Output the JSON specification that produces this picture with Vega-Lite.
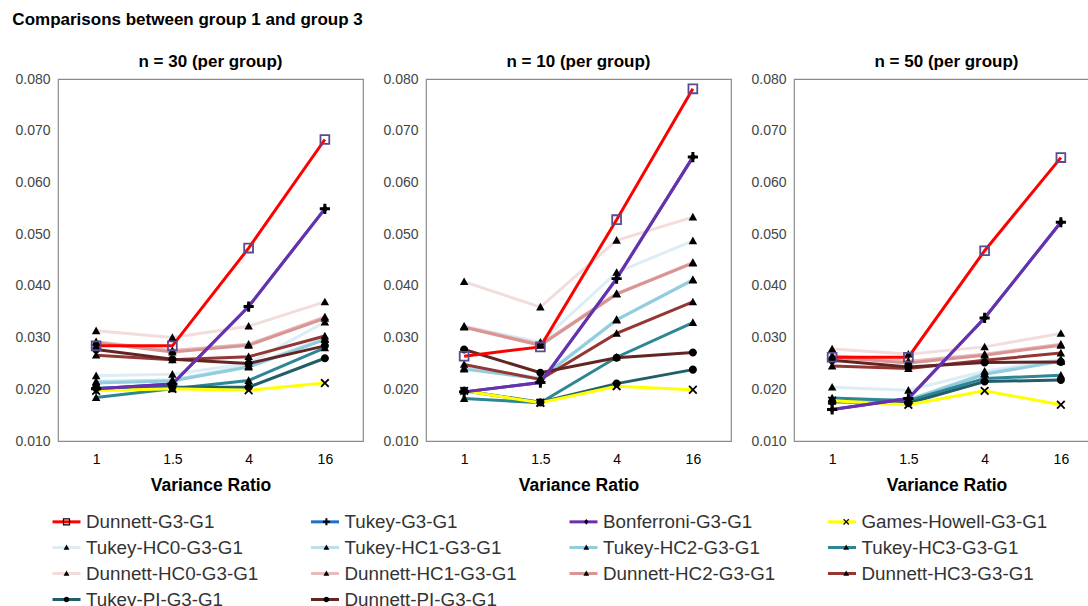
{
  "$schema": "https://vega.github.io/schema/vega-lite/v6.json",
  "padding": {"left": 12, "top": 11, "right": -12, "bottom": 0},
  "title": {"text": "Comparisons between group 1 and group 3", "anchor": "start", "fontSize": 17, "fontWeight": "bold", "font": "Liberation Sans", "color": "#000000", "offset": 24, "dx": -2},
  "data": {"values": [
    {"panel":"n = 30 (per group)","method":"Dunnett-HC0-G3-G1","ratio":1,"rate":0.0313},
    {"panel":"n = 30 (per group)","method":"Dunnett-HC0-G3-G1","ratio":1.5,"rate":0.0300},
    {"panel":"n = 30 (per group)","method":"Dunnett-HC0-G3-G1","ratio":4,"rate":0.0322},
    {"panel":"n = 30 (per group)","method":"Dunnett-HC0-G3-G1","ratio":16,"rate":0.0369},
    {"panel":"n = 30 (per group)","method":"Tukey-HC0-G3-G1","ratio":1,"rate":0.0226},
    {"panel":"n = 30 (per group)","method":"Tukey-HC0-G3-G1","ratio":1.5,"rate":0.0229},
    {"panel":"n = 30 (per group)","method":"Tukey-HC0-G3-G1","ratio":4,"rate":0.0250},
    {"panel":"n = 30 (per group)","method":"Tukey-HC0-G3-G1","ratio":16,"rate":0.0330},
    {"panel":"n = 30 (per group)","method":"Dunnett-HC1-G3-G1","ratio":1,"rate":0.0292},
    {"panel":"n = 30 (per group)","method":"Dunnett-HC1-G3-G1","ratio":1.5,"rate":0.0275},
    {"panel":"n = 30 (per group)","method":"Dunnett-HC1-G3-G1","ratio":4,"rate":0.0287},
    {"panel":"n = 30 (per group)","method":"Dunnett-HC1-G3-G1","ratio":16,"rate":0.0340},
    {"panel":"n = 30 (per group)","method":"Tukey-HC1-G3-G1","ratio":1,"rate":0.0215},
    {"panel":"n = 30 (per group)","method":"Tukey-HC1-G3-G1","ratio":1.5,"rate":0.0218},
    {"panel":"n = 30 (per group)","method":"Tukey-HC1-G3-G1","ratio":4,"rate":0.0245},
    {"panel":"n = 30 (per group)","method":"Tukey-HC1-G3-G1","ratio":16,"rate":0.0298},
    {"panel":"n = 30 (per group)","method":"Dunnett-HC2-G3-G1","ratio":1,"rate":0.0290},
    {"panel":"n = 30 (per group)","method":"Dunnett-HC2-G3-G1","ratio":1.5,"rate":0.0272},
    {"panel":"n = 30 (per group)","method":"Dunnett-HC2-G3-G1","ratio":4,"rate":0.0285},
    {"panel":"n = 30 (per group)","method":"Dunnett-HC2-G3-G1","ratio":16,"rate":0.0337},
    {"panel":"n = 30 (per group)","method":"Tukey-HC2-G3-G1","ratio":1,"rate":0.0212},
    {"panel":"n = 30 (per group)","method":"Tukey-HC2-G3-G1","ratio":1.5,"rate":0.0216},
    {"panel":"n = 30 (per group)","method":"Tukey-HC2-G3-G1","ratio":4,"rate":0.0243},
    {"panel":"n = 30 (per group)","method":"Tukey-HC2-G3-G1","ratio":16,"rate":0.0296},
    {"panel":"n = 30 (per group)","method":"Dunnett-HC3-G3-G1","ratio":1,"rate":0.0266},
    {"panel":"n = 30 (per group)","method":"Dunnett-HC3-G3-G1","ratio":1.5,"rate":0.0257},
    {"panel":"n = 30 (per group)","method":"Dunnett-HC3-G3-G1","ratio":4,"rate":0.0263},
    {"panel":"n = 30 (per group)","method":"Dunnett-HC3-G3-G1","ratio":16,"rate":0.0303},
    {"panel":"n = 30 (per group)","method":"Tukey-HC3-G3-G1","ratio":1,"rate":0.0184},
    {"panel":"n = 30 (per group)","method":"Tukey-HC3-G3-G1","ratio":1.5,"rate":0.0201},
    {"panel":"n = 30 (per group)","method":"Tukey-HC3-G3-G1","ratio":4,"rate":0.0217},
    {"panel":"n = 30 (per group)","method":"Tukey-HC3-G3-G1","ratio":16,"rate":0.0280},
    {"panel":"n = 30 (per group)","method":"Dunnett-PI-G3-G1","ratio":1,"rate":0.0277},
    {"panel":"n = 30 (per group)","method":"Dunnett-PI-G3-G1","ratio":1.5,"rate":0.0258},
    {"panel":"n = 30 (per group)","method":"Dunnett-PI-G3-G1","ratio":4,"rate":0.0250},
    {"panel":"n = 30 (per group)","method":"Dunnett-PI-G3-G1","ratio":16,"rate":0.0284},
    {"panel":"n = 30 (per group)","method":"Tukey-PI-G3-G1","ratio":1,"rate":0.0202},
    {"panel":"n = 30 (per group)","method":"Tukey-PI-G3-G1","ratio":1.5,"rate":0.0204},
    {"panel":"n = 30 (per group)","method":"Tukey-PI-G3-G1","ratio":4,"rate":0.0204},
    {"panel":"n = 30 (per group)","method":"Tukey-PI-G3-G1","ratio":16,"rate":0.0260},
    {"panel":"n = 30 (per group)","method":"Games-Howell-G3-G1","ratio":1,"rate":0.0197},
    {"panel":"n = 30 (per group)","method":"Games-Howell-G3-G1","ratio":1.5,"rate":0.0201},
    {"panel":"n = 30 (per group)","method":"Games-Howell-G3-G1","ratio":4,"rate":0.0198},
    {"panel":"n = 30 (per group)","method":"Games-Howell-G3-G1","ratio":16,"rate":0.0212},
    {"panel":"n = 30 (per group)","method":"Tukey-G3-G1","ratio":1,"rate":0.0201},
    {"panel":"n = 30 (per group)","method":"Tukey-G3-G1","ratio":1.5,"rate":0.0210},
    {"panel":"n = 30 (per group)","method":"Tukey-G3-G1","ratio":4,"rate":0.0360},
    {"panel":"n = 30 (per group)","method":"Tukey-G3-G1","ratio":16,"rate":0.0549},
    {"panel":"n = 30 (per group)","method":"Bonferroni-G3-G1","ratio":1,"rate":0.0201},
    {"panel":"n = 30 (per group)","method":"Bonferroni-G3-G1","ratio":1.5,"rate":0.0210},
    {"panel":"n = 30 (per group)","method":"Bonferroni-G3-G1","ratio":4,"rate":0.0360},
    {"panel":"n = 30 (per group)","method":"Bonferroni-G3-G1","ratio":16,"rate":0.0549},
    {"panel":"n = 30 (per group)","method":"Dunnett-G3-G1","ratio":1,"rate":0.0284},
    {"panel":"n = 30 (per group)","method":"Dunnett-G3-G1","ratio":1.5,"rate":0.0284},
    {"panel":"n = 30 (per group)","method":"Dunnett-G3-G1","ratio":4,"rate":0.0473},
    {"panel":"n = 30 (per group)","method":"Dunnett-G3-G1","ratio":16,"rate":0.0683},

    {"panel":"n = 10 (per group)","method":"Dunnett-HC0-G3-G1","ratio":1,"rate":0.0408},
    {"panel":"n = 10 (per group)","method":"Dunnett-HC0-G3-G1","ratio":1.5,"rate":0.0359},
    {"panel":"n = 10 (per group)","method":"Dunnett-HC0-G3-G1","ratio":4,"rate":0.0488},
    {"panel":"n = 10 (per group)","method":"Dunnett-HC0-G3-G1","ratio":16,"rate":0.0533},
    {"panel":"n = 10 (per group)","method":"Tukey-HC0-G3-G1","ratio":1,"rate":0.0322},
    {"panel":"n = 10 (per group)","method":"Tukey-HC0-G3-G1","ratio":1.5,"rate":0.0291},
    {"panel":"n = 10 (per group)","method":"Tukey-HC0-G3-G1","ratio":4,"rate":0.0426},
    {"panel":"n = 10 (per group)","method":"Tukey-HC0-G3-G1","ratio":16,"rate":0.0487},
    {"panel":"n = 10 (per group)","method":"Dunnett-HC1-G3-G1","ratio":1,"rate":0.0321},
    {"panel":"n = 10 (per group)","method":"Dunnett-HC1-G3-G1","ratio":1.5,"rate":0.0287},
    {"panel":"n = 10 (per group)","method":"Dunnett-HC1-G3-G1","ratio":4,"rate":0.0385},
    {"panel":"n = 10 (per group)","method":"Dunnett-HC1-G3-G1","ratio":16,"rate":0.0445},
    {"panel":"n = 10 (per group)","method":"Tukey-HC1-G3-G1","ratio":1,"rate":0.0241},
    {"panel":"n = 10 (per group)","method":"Tukey-HC1-G3-G1","ratio":1.5,"rate":0.0222},
    {"panel":"n = 10 (per group)","method":"Tukey-HC1-G3-G1","ratio":4,"rate":0.0335},
    {"panel":"n = 10 (per group)","method":"Tukey-HC1-G3-G1","ratio":16,"rate":0.0412},
    {"panel":"n = 10 (per group)","method":"Dunnett-HC2-G3-G1","ratio":1,"rate":0.0320},
    {"panel":"n = 10 (per group)","method":"Dunnett-HC2-G3-G1","ratio":1.5,"rate":0.0285},
    {"panel":"n = 10 (per group)","method":"Dunnett-HC2-G3-G1","ratio":4,"rate":0.0384},
    {"panel":"n = 10 (per group)","method":"Dunnett-HC2-G3-G1","ratio":16,"rate":0.0444},
    {"panel":"n = 10 (per group)","method":"Tukey-HC2-G3-G1","ratio":1,"rate":0.0239},
    {"panel":"n = 10 (per group)","method":"Tukey-HC2-G3-G1","ratio":1.5,"rate":0.0220},
    {"panel":"n = 10 (per group)","method":"Tukey-HC2-G3-G1","ratio":4,"rate":0.0334},
    {"panel":"n = 10 (per group)","method":"Tukey-HC2-G3-G1","ratio":16,"rate":0.0411},
    {"panel":"n = 10 (per group)","method":"Dunnett-HC3-G3-G1","ratio":1,"rate":0.0248},
    {"panel":"n = 10 (per group)","method":"Dunnett-HC3-G3-G1","ratio":1.5,"rate":0.0219},
    {"panel":"n = 10 (per group)","method":"Dunnett-HC3-G3-G1","ratio":4,"rate":0.0308},
    {"panel":"n = 10 (per group)","method":"Dunnett-HC3-G3-G1","ratio":16,"rate":0.0369},
    {"panel":"n = 10 (per group)","method":"Tukey-HC3-G3-G1","ratio":1,"rate":0.0182},
    {"panel":"n = 10 (per group)","method":"Tukey-HC3-G3-G1","ratio":1.5,"rate":0.0174},
    {"panel":"n = 10 (per group)","method":"Tukey-HC3-G3-G1","ratio":4,"rate":0.0262},
    {"panel":"n = 10 (per group)","method":"Tukey-HC3-G3-G1","ratio":16,"rate":0.0329},
    {"panel":"n = 10 (per group)","method":"Dunnett-PI-G3-G1","ratio":1,"rate":0.0277},
    {"panel":"n = 10 (per group)","method":"Dunnett-PI-G3-G1","ratio":1.5,"rate":0.0232},
    {"panel":"n = 10 (per group)","method":"Dunnett-PI-G3-G1","ratio":4,"rate":0.0261},
    {"panel":"n = 10 (per group)","method":"Dunnett-PI-G3-G1","ratio":16,"rate":0.0271},
    {"panel":"n = 10 (per group)","method":"Tukey-PI-G3-G1","ratio":1,"rate":0.0197},
    {"panel":"n = 10 (per group)","method":"Tukey-PI-G3-G1","ratio":1.5,"rate":0.0175},
    {"panel":"n = 10 (per group)","method":"Tukey-PI-G3-G1","ratio":4,"rate":0.0211},
    {"panel":"n = 10 (per group)","method":"Tukey-PI-G3-G1","ratio":16,"rate":0.0238},
    {"panel":"n = 10 (per group)","method":"Games-Howell-G3-G1","ratio":1,"rate":0.0197},
    {"panel":"n = 10 (per group)","method":"Games-Howell-G3-G1","ratio":1.5,"rate":0.0174},
    {"panel":"n = 10 (per group)","method":"Games-Howell-G3-G1","ratio":4,"rate":0.0206},
    {"panel":"n = 10 (per group)","method":"Games-Howell-G3-G1","ratio":16,"rate":0.0199},
    {"panel":"n = 10 (per group)","method":"Tukey-G3-G1","ratio":1,"rate":0.0195},
    {"panel":"n = 10 (per group)","method":"Tukey-G3-G1","ratio":1.5,"rate":0.0213},
    {"panel":"n = 10 (per group)","method":"Tukey-G3-G1","ratio":4,"rate":0.0414},
    {"panel":"n = 10 (per group)","method":"Tukey-G3-G1","ratio":16,"rate":0.0649},
    {"panel":"n = 10 (per group)","method":"Bonferroni-G3-G1","ratio":1,"rate":0.0195},
    {"panel":"n = 10 (per group)","method":"Bonferroni-G3-G1","ratio":1.5,"rate":0.0213},
    {"panel":"n = 10 (per group)","method":"Bonferroni-G3-G1","ratio":4,"rate":0.0414},
    {"panel":"n = 10 (per group)","method":"Bonferroni-G3-G1","ratio":16,"rate":0.0649},
    {"panel":"n = 10 (per group)","method":"Dunnett-G3-G1","ratio":1,"rate":0.0264},
    {"panel":"n = 10 (per group)","method":"Dunnett-G3-G1","ratio":1.5,"rate":0.0282},
    {"panel":"n = 10 (per group)","method":"Dunnett-G3-G1","ratio":4,"rate":0.0528},
    {"panel":"n = 10 (per group)","method":"Dunnett-G3-G1","ratio":16,"rate":0.0781},

    {"panel":"n = 50 (per group)","method":"Dunnett-HC0-G3-G1","ratio":1,"rate":0.0278},
    {"panel":"n = 50 (per group)","method":"Dunnett-HC0-G3-G1","ratio":1.5,"rate":0.0268},
    {"panel":"n = 50 (per group)","method":"Dunnett-HC0-G3-G1","ratio":4,"rate":0.0282},
    {"panel":"n = 50 (per group)","method":"Dunnett-HC0-G3-G1","ratio":16,"rate":0.0308},
    {"panel":"n = 50 (per group)","method":"Tukey-HC0-G3-G1","ratio":1,"rate":0.0204},
    {"panel":"n = 50 (per group)","method":"Tukey-HC0-G3-G1","ratio":1.5,"rate":0.0198},
    {"panel":"n = 50 (per group)","method":"Tukey-HC0-G3-G1","ratio":4,"rate":0.0235},
    {"panel":"n = 50 (per group)","method":"Tukey-HC0-G3-G1","ratio":16,"rate":0.0258},
    {"panel":"n = 50 (per group)","method":"Dunnett-HC1-G3-G1","ratio":1,"rate":0.0265},
    {"panel":"n = 50 (per group)","method":"Dunnett-HC1-G3-G1","ratio":1.5,"rate":0.0254},
    {"panel":"n = 50 (per group)","method":"Dunnett-HC1-G3-G1","ratio":4,"rate":0.0268},
    {"panel":"n = 50 (per group)","method":"Dunnett-HC1-G3-G1","ratio":16,"rate":0.0287},
    {"panel":"n = 50 (per group)","method":"Tukey-HC1-G3-G1","ratio":1,"rate":0.0181},
    {"panel":"n = 50 (per group)","method":"Tukey-HC1-G3-G1","ratio":1.5,"rate":0.0180},
    {"panel":"n = 50 (per group)","method":"Tukey-HC1-G3-G1","ratio":4,"rate":0.0231},
    {"panel":"n = 50 (per group)","method":"Tukey-HC1-G3-G1","ratio":16,"rate":0.0255},
    {"panel":"n = 50 (per group)","method":"Dunnett-HC2-G3-G1","ratio":1,"rate":0.0262},
    {"panel":"n = 50 (per group)","method":"Dunnett-HC2-G3-G1","ratio":1.5,"rate":0.0251},
    {"panel":"n = 50 (per group)","method":"Dunnett-HC2-G3-G1","ratio":4,"rate":0.0266},
    {"panel":"n = 50 (per group)","method":"Dunnett-HC2-G3-G1","ratio":16,"rate":0.0285},
    {"panel":"n = 50 (per group)","method":"Tukey-HC2-G3-G1","ratio":1,"rate":0.0180},
    {"panel":"n = 50 (per group)","method":"Tukey-HC2-G3-G1","ratio":1.5,"rate":0.0179},
    {"panel":"n = 50 (per group)","method":"Tukey-HC2-G3-G1","ratio":4,"rate":0.0229},
    {"panel":"n = 50 (per group)","method":"Tukey-HC2-G3-G1","ratio":16,"rate":0.0254},
    {"panel":"n = 50 (per group)","method":"Dunnett-HC3-G3-G1","ratio":1,"rate":0.0245},
    {"panel":"n = 50 (per group)","method":"Dunnett-HC3-G3-G1","ratio":1.5,"rate":0.0240},
    {"panel":"n = 50 (per group)","method":"Dunnett-HC3-G3-G1","ratio":4,"rate":0.0256},
    {"panel":"n = 50 (per group)","method":"Dunnett-HC3-G3-G1","ratio":16,"rate":0.0270},
    {"panel":"n = 50 (per group)","method":"Tukey-HC3-G3-G1","ratio":1,"rate":0.0183},
    {"panel":"n = 50 (per group)","method":"Tukey-HC3-G3-G1","ratio":1.5,"rate":0.0178},
    {"panel":"n = 50 (per group)","method":"Tukey-HC3-G3-G1","ratio":4,"rate":0.0221},
    {"panel":"n = 50 (per group)","method":"Tukey-HC3-G3-G1","ratio":16,"rate":0.0227},
    {"panel":"n = 50 (per group)","method":"Dunnett-PI-G3-G1","ratio":1,"rate":0.0256},
    {"panel":"n = 50 (per group)","method":"Dunnett-PI-G3-G1","ratio":1.5,"rate":0.0243},
    {"panel":"n = 50 (per group)","method":"Dunnett-PI-G3-G1","ratio":4,"rate":0.0252},
    {"panel":"n = 50 (per group)","method":"Dunnett-PI-G3-G1","ratio":16,"rate":0.0253},
    {"panel":"n = 50 (per group)","method":"Tukey-PI-G3-G1","ratio":1,"rate":0.0176},
    {"panel":"n = 50 (per group)","method":"Tukey-PI-G3-G1","ratio":1.5,"rate":0.0173},
    {"panel":"n = 50 (per group)","method":"Tukey-PI-G3-G1","ratio":4,"rate":0.0215},
    {"panel":"n = 50 (per group)","method":"Tukey-PI-G3-G1","ratio":16,"rate":0.0218},
    {"panel":"n = 50 (per group)","method":"Games-Howell-G3-G1","ratio":1,"rate":0.0178},
    {"panel":"n = 50 (per group)","method":"Games-Howell-G3-G1","ratio":1.5,"rate":0.0170},
    {"panel":"n = 50 (per group)","method":"Games-Howell-G3-G1","ratio":4,"rate":0.0197},
    {"panel":"n = 50 (per group)","method":"Games-Howell-G3-G1","ratio":16,"rate":0.0170},
    {"panel":"n = 50 (per group)","method":"Tukey-G3-G1","ratio":1,"rate":0.0161},
    {"panel":"n = 50 (per group)","method":"Tukey-G3-G1","ratio":1.5,"rate":0.0182},
    {"panel":"n = 50 (per group)","method":"Tukey-G3-G1","ratio":4,"rate":0.0338},
    {"panel":"n = 50 (per group)","method":"Tukey-G3-G1","ratio":16,"rate":0.0523},
    {"panel":"n = 50 (per group)","method":"Bonferroni-G3-G1","ratio":1,"rate":0.0161},
    {"panel":"n = 50 (per group)","method":"Bonferroni-G3-G1","ratio":1.5,"rate":0.0182},
    {"panel":"n = 50 (per group)","method":"Bonferroni-G3-G1","ratio":4,"rate":0.0338},
    {"panel":"n = 50 (per group)","method":"Bonferroni-G3-G1","ratio":16,"rate":0.0523},
    {"panel":"n = 50 (per group)","method":"Dunnett-G3-G1","ratio":1,"rate":0.0262},
    {"panel":"n = 50 (per group)","method":"Dunnett-G3-G1","ratio":1.5,"rate":0.0262},
    {"panel":"n = 50 (per group)","method":"Dunnett-G3-G1","ratio":4,"rate":0.0468},
    {"panel":"n = 50 (per group)","method":"Dunnett-G3-G1","ratio":16,"rate":0.0648}
  ]},
  "facet": {
    "column": {
      "field": "panel", "type": "nominal",
      "sort": ["n = 30 (per group)", "n = 10 (per group)", "n = 50 (per group)"],
      "title": null,
      "header": {"labelFontSize": 17, "labelFontWeight": "bold", "labelFont": "Liberation Sans", "labelColor": "#000000", "labelPadding": 0}
    }
  },
  "spacing": 18,
  "resolve": {"axis": {"y": "independent"}},
  "spec": {
    "width": 305,
    "height": 362,
    "layer": [
      {
        "mark": {"type": "line", "strokeWidth": 3},
        "encoding": {
          "x": {"field": "ratio", "type": "ordinal", "scale": {"type": "point", "padding": 0.5},
                "axis": {"title": "Variance Ratio", "labelAngle": 0, "ticks": false, "domain": false, "grid": false, "labelFontSize": 14, "labelColor": "#000000", "labelPadding": 3, "titleFontSize": 17.5, "titleFontWeight": "bold", "titleColor": "#000000", "titlePadding": 10}},
          "y": {"field": "rate", "type": "quantitative", "scale": {"domain": [0.01, 0.08], "nice": false, "zero": false},
                "axis": {"title": null, "values": [0.01, 0.02, 0.03, 0.04, 0.05, 0.06, 0.07, 0.08], "format": ".3f", "ticks": false, "domain": false, "grid": false, "labelFontSize": 14, "labelColor": "#444444", "labelPadding": 8}},
          "color": {
            "field": "method", "type": "nominal",
            "scale": {
              "domain": ["Dunnett-G3-G1", "Tukey-G3-G1", "Bonferroni-G3-G1", "Games-Howell-G3-G1", "Tukey-HC0-G3-G1", "Tukey-HC1-G3-G1", "Tukey-HC2-G3-G1", "Tukey-HC3-G3-G1", "Dunnett-HC0-G3-G1", "Dunnett-HC1-G3-G1", "Dunnett-HC2-G3-G1", "Dunnett-HC3-G3-G1", "Tukey-PI-G3-G1", "Dunnett-PI-G3-G1"],
              "range": ["#ff0000", "#1f6fc2", "#6b2fae", "#ffff00", "#dcedf5", "#bfe0ea", "#92cddf", "#2d8595", "#f2dcdc", "#e8bcbc", "#d99594", "#943634", "#215e6a", "#632523"]
            },
            "legend": {"orient": "none", "legendX": -7, "legendY": 427, "direction": "horizontal", "columns": 4, "title": null, "symbolType": "stroke", "symbolSize": 784, "symbolStrokeWidth": 3, "labelFontSize": 18.8, "labelFont": "Liberation Sans", "labelColor": "#333333", "labelOffset": 4, "columnPadding": 32.5, "rowPadding": -0.5, "labelLimit": 400, "padding": 0, "gridAlign": "all"}
          }
        }
      },
      {
        "mark": {"type": "point", "size": 1800, "filled": true, "opacity": 1},
        "encoding": {
          "x": {"field": "ratio", "type": "ordinal"},
          "y": {"field": "rate", "type": "quantitative"},
          "shape": {
            "field": "method", "type": "nominal",
            "scale": {
              "domain": ["Dunnett-G3-G1", "Tukey-G3-G1", "Bonferroni-G3-G1", "Games-Howell-G3-G1", "Tukey-HC0-G3-G1", "Tukey-HC1-G3-G1", "Tukey-HC2-G3-G1", "Tukey-HC3-G3-G1", "Dunnett-HC0-G3-G1", "Dunnett-HC1-G3-G1", "Dunnett-HC2-G3-G1", "Dunnett-HC3-G3-G1", "Tukey-PI-G3-G1", "Dunnett-PI-G3-G1", "(none)"],
              "range": [
                "M-0.25,-0.25L0.25,-0.25L0.25,0.25L-0.25,0.25ZM-0.165,-0.165L-0.165,0.165L0.165,0.165L0.165,-0.165Z",
                "M-0.24,-0.07L-0.07,-0.07L-0.07,-0.24L0.07,-0.24L0.07,-0.07L0.24,-0.07L0.24,0.07L0.07,0.07L0.07,0.24L-0.07,0.24L-0.07,0.07L-0.24,0.07Z",
                "M0,-0.2L0.15,0L0,0.2L-0.15,0Z",
                "M-0.21,-0.15L-0.15,-0.21L0,-0.06L0.15,-0.21L0.21,-0.15L0.06,0L0.21,0.15L0.15,0.21L0,0.06L-0.15,0.21L-0.21,0.15L-0.06,0Z",
                "M0,-0.2L0.2,0.16L-0.2,0.16Z",
                "M0,-0.2L0.2,0.16L-0.2,0.16Z",
                "M0,-0.2L0.2,0.16L-0.2,0.16Z",
                "M0,-0.2L0.2,0.16L-0.2,0.16Z",
                "M0,-0.2L0.2,0.16L-0.2,0.16Z",
                "M0,-0.2L0.2,0.16L-0.2,0.16Z",
                "M0,-0.2L0.2,0.16L-0.2,0.16Z",
                "M0,-0.2L0.2,0.16L-0.2,0.16Z",
                "M-0.19,0A0.19,0.19,0,1,1,0.19,0A0.19,0.19,0,1,1,-0.19,0Z",
                "M-0.19,0A0.19,0.19,0,1,1,0.19,0A0.19,0.19,0,1,1,-0.19,0Z",
                "M-0.19,0A0.19,0.19,0,1,1,0.19,0A0.19,0.19,0,1,1,-0.19,0Z"
              ]
            },
            "legend": {
              "orient": "none", "legendX": -7, "legendY": 427, "direction": "horizontal", "columns": 4, "title": null,
              "values": ["Dunnett-G3-G1", "Tukey-G3-G1", "Bonferroni-G3-G1", "Games-Howell-G3-G1", "Tukey-HC0-G3-G1", "Tukey-HC1-G3-G1", "Tukey-HC2-G3-G1", "Tukey-HC3-G3-G1", "Dunnett-HC0-G3-G1", "Dunnett-HC1-G3-G1", "Dunnett-HC2-G3-G1", "Dunnett-HC3-G3-G1", "Tukey-PI-G3-G1", "Dunnett-PI-G3-G1"],
              "symbolSize": 841, "symbolStrokeWidth": 2, "symbolStrokeColor": "transparent", "symbolFillColor": "#000000", "labelFontSize": 18.8, "labelFont": "Liberation Sans", "labelOpacity": 0, "labelOffset": 4, "columnPadding": 38.9, "rowPadding": -0.5, "labelLimit": 400, "padding": 0, "gridAlign": "all"
            }
          },
          "fill": {
            "field": "method", "type": "nominal",
            "scale": {
              "domain": ["Dunnett-G3-G1", "Tukey-G3-G1", "Bonferroni-G3-G1", "Games-Howell-G3-G1", "Tukey-HC0-G3-G1", "Tukey-HC1-G3-G1", "Tukey-HC2-G3-G1", "Tukey-HC3-G3-G1", "Dunnett-HC0-G3-G1", "Dunnett-HC1-G3-G1", "Dunnett-HC2-G3-G1", "Dunnett-HC3-G3-G1", "Tukey-PI-G3-G1", "Dunnett-PI-G3-G1"],
              "range": ["#5b4a8c", "#000000", "#000000", "#000000", "#000000", "#000000", "#000000", "#000000", "#000000", "#000000", "#000000", "#000000", "#000000", "#000000"]
            },
            "legend": null
          }
        }
      }
    ]
  },
  "config": {
    "font": "Liberation Sans",
    "view": {"stroke": "#8c8c8c", "strokeWidth": 1.2}
  }
}
